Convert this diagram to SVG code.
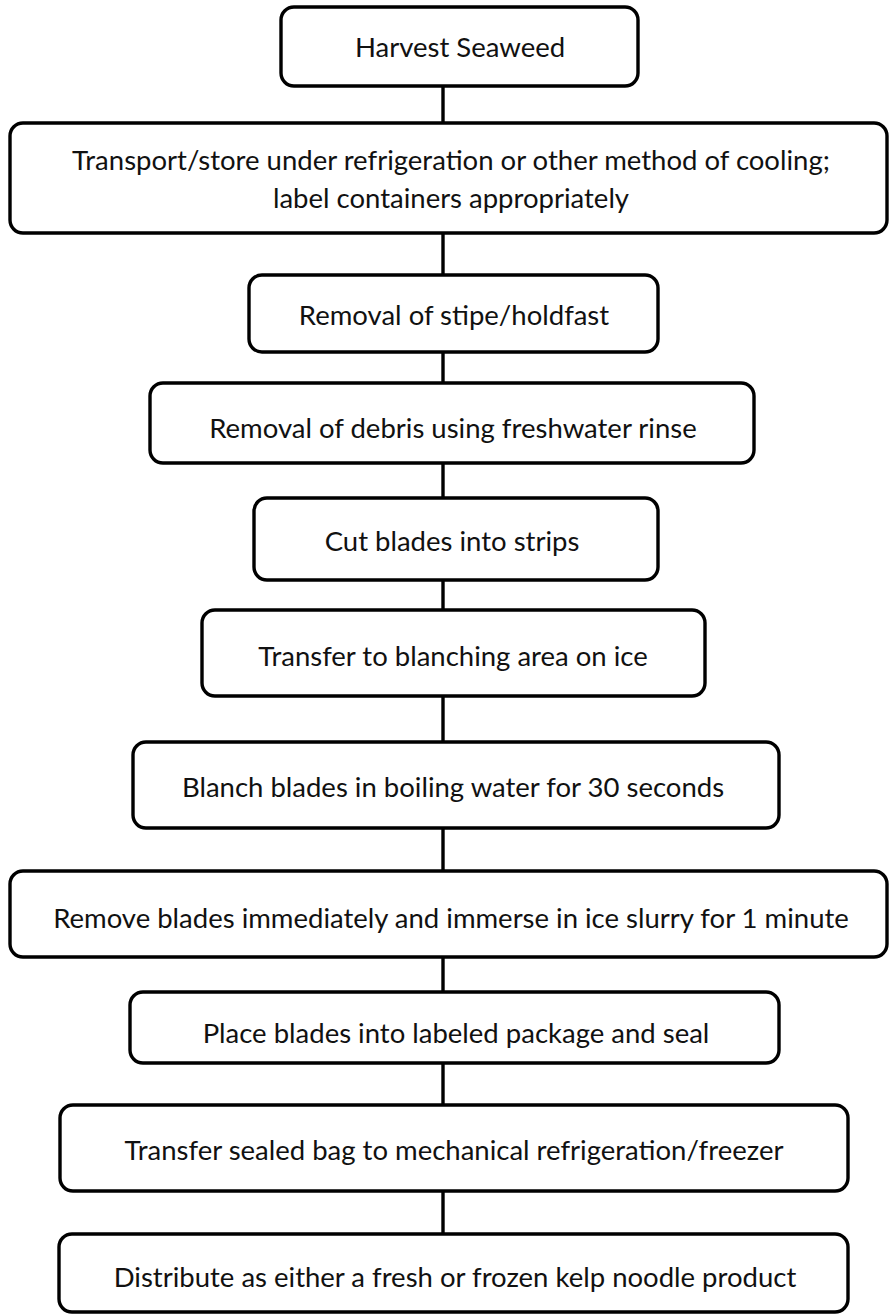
<svg xmlns="http://www.w3.org/2000/svg" width="890" height="1314" viewBox="0 0 890 1314">
  <style>
    .box { fill: #ffffff; stroke: #000000; stroke-width: 3.4; }
    .lbl { font-family: Lato, "Liberation Sans", sans-serif; font-size: 27.5px; fill: #111111; text-anchor: middle; }
    .link { stroke: #000000; stroke-width: 3.4; fill: none; }
  </style>
  <rect width="890" height="1314" fill="#ffffff"/>

  <!-- vertical connectors between consecutive steps -->
  <g id="connectors">
    <line class="link" x1="443" y1="86" x2="443" y2="123"/>
    <line class="link" x1="443" y1="233" x2="443" y2="275"/>
    <line class="link" x1="443" y1="352" x2="443" y2="383"/>
    <line class="link" x1="443" y1="463" x2="443" y2="498"/>
    <line class="link" x1="443" y1="580" x2="443" y2="610"/>
    <line class="link" x1="443" y1="696" x2="443" y2="742"/>
    <line class="link" x1="443" y1="828" x2="443" y2="871"/>
    <line class="link" x1="443" y1="957" x2="443" y2="992"/>
    <line class="link" x1="443" y1="1063" x2="443" y2="1105"/>
    <line class="link" x1="443" y1="1191" x2="443" y2="1234"/>
  </g>

  <g id="step-harvest">
    <rect class="box" x="281" y="7" width="357" height="79" rx="13"/>
    <text class="lbl" x="460" y="57">Harvest Seaweed</text>
  </g>

  <g id="step-transport">
    <rect class="box" x="10" y="123" width="877" height="110" rx="13"/>
    <text class="lbl" x="451" y="170">Transport/store under refrigeration or other method of cooling;</text>
    <text class="lbl" x="451" y="208">label containers appropriately</text>
  </g>

  <g id="step-stipe">
    <rect class="box" x="249" y="275" width="409" height="77" rx="13"/>
    <text class="lbl" x="454" y="325">Removal of stipe/holdfast</text>
  </g>

  <g id="step-rinse">
    <rect class="box" x="150" y="383" width="604" height="80" rx="13"/>
    <text class="lbl" x="453" y="438">Removal of debris using freshwater rinse</text>
  </g>

  <g id="step-cut">
    <rect class="box" x="254" y="498" width="404" height="82" rx="13"/>
    <text class="lbl" x="452" y="551">Cut blades into strips</text>
  </g>

  <g id="step-transfer-blanch">
    <rect class="box" x="202" y="610" width="503" height="86" rx="13"/>
    <text class="lbl" x="453" y="666">Transfer to blanching area on ice</text>
  </g>

  <g id="step-blanch">
    <rect class="box" x="133" y="742" width="646" height="86" rx="13"/>
    <text class="lbl" x="453" y="797">Blanch blades in boiling water for 30 seconds</text>
  </g>

  <g id="step-ice">
    <rect class="box" x="10" y="871" width="877" height="86" rx="13"/>
    <text class="lbl" x="451" y="928">Remove blades immediately and immerse in ice slurry for 1 minute</text>
  </g>

  <g id="step-package">
    <rect class="box" x="130" y="992" width="649" height="71" rx="13"/>
    <text class="lbl" x="456" y="1043">Place blades into labeled package and seal</text>
  </g>

  <g id="step-freezer">
    <rect class="box" x="60" y="1105" width="788" height="86" rx="13"/>
    <text class="lbl" x="454" y="1160">Transfer sealed bag to mechanical refrigeration/freezer</text>
  </g>

  <g id="step-distribute">
    <rect class="box" x="59" y="1234" width="789" height="78" rx="13"/>
    <text class="lbl" x="455" y="1287">Distribute as either a fresh or frozen kelp noodle product</text>
  </g>
</svg>
